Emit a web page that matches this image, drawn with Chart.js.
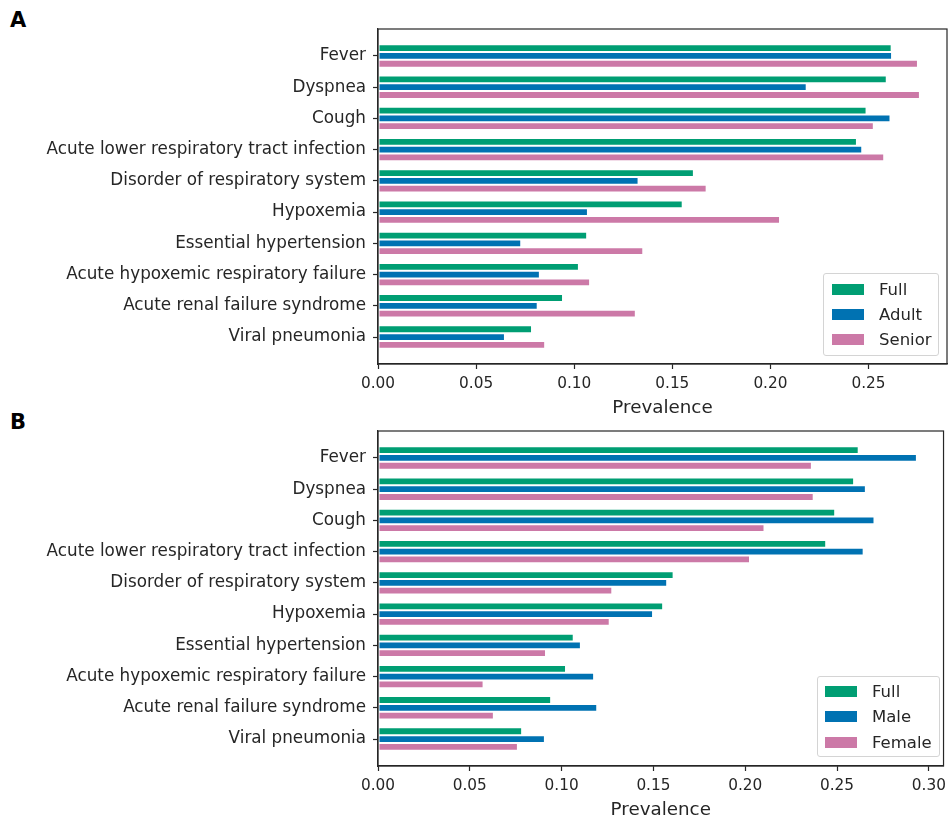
<!DOCTYPE html>
<html>
<head>
<meta charset="utf-8">
<script src="https://cdn.jsdelivr.net/npm/chart.js@4.4.1/dist/chart.umd.min.js"></script>
<style>
  html, body { margin: 0; padding: 0; background: #fff; }
  body { width: 952px; height: 821px; position: relative; overflow: hidden; font-family: "DejaVu Sans", sans-serif; }
  .panel-letter { position: absolute; left: 10px; font-weight: bold; font-size: 21px; line-height: 21px; color: #000; }
  canvas { position: absolute; left: 0; }
  .legend { position: absolute; box-sizing: border-box; border: 1px solid #d4d4d4; border-radius: 3px; background: rgba(255,255,255,0.85); }
  .legend-row { position: absolute; left: 0; height: 20px; display: flex; align-items: center; white-space: nowrap; }
  .legend-swatch { width: 32px; height: 11px; }
  .legend-text { font-size: 16.5px; color: #262626; }
</style>
</head>
<body>
<div class="panel-letter" style="top:10px">A</div>
<div class="panel-letter" style="top:412px">B</div>
<canvas id="panelA" width="952" height="420" style="top:0"></canvas>
<canvas id="panelB" width="952" height="419" style="top:402px"></canvas>
<script>
// Top-10 symptoms/conditions, most prevalent first
const symptoms = [
  "Fever",
  "Dyspnea",
  "Cough",
  "Acute lower respiratory tract infection",
  "Disorder of respiratory system",
  "Hypoxemia",
  "Essential hypertension",
  "Acute hypoxemic respiratory failure",
  "Acute renal failure syndrome",
  "Viral pneumonia"
];

// Prevalence per cohort
const fullValues   = [0.2618, 0.2593, 0.2490, 0.2441, 0.1610, 0.1553, 0.1066, 0.1024, 0.0943, 0.0785];
const adultValues  = [0.2620, 0.2185, 0.2612, 0.2468, 0.1328, 0.1070, 0.0730, 0.0825, 0.0814, 0.0647];
const seniorValues = [0.2752, 0.2762, 0.2527, 0.2580, 0.1675, 0.2049, 0.1352, 0.1081, 0.1314, 0.0852];
const maleValues   = [0.2935, 0.2657, 0.2704, 0.2645, 0.1575, 0.1498, 0.1105, 0.1177, 0.1194, 0.0909];
const femaleValues = [0.2363, 0.2373, 0.2105, 0.2026, 0.1276, 0.1262, 0.0915, 0.0575, 0.0631, 0.0762];

// x-axis tick values and upper limits of each panel
const prevalenceTicks = [0, 0.05, 0.10, 0.15, 0.20, 0.25, 0.30];
const xMaxA = 0.290;
const xMaxB = 0.308;

const palette = { green: "#009E73", blue: "#0072B2", pink: "#CC79A7" };
const ink = "#262626";

// outline the whole plotting area (box on all four sides)
const frameBox = {
  id: "frameBox",
  afterDraw(chart) {
    const { ctx, chartArea: a } = chart;
    ctx.save();
    ctx.strokeStyle = ink;
    ctx.lineWidth = 1.2;
    ctx.strokeRect(a.left, a.top, a.right - a.left, a.bottom - a.top);
    ctx.restore();
  }
};

function toPoints(values) {
  return values.map((v, i) => ({ x: v, y: i }));
}

function makePanel(canvasId, series, xMax, axisHeight, titlePad) {
  const datasets = series.map(s => ({
    label: s.label,
    data: toPoints(s.values),
    backgroundColor: s.color,
    borderColor: "rgba(255,255,255,0.95)",
    borderWidth: 1,
    borderSkipped: false,
    categoryPercentage: 0.75,
    barPercentage: 1.0
  }));

  return new Chart(document.getElementById(canvasId), {
    type: "bar",
    data: { datasets },
    options: {
      indexAxis: "y",
      responsive: false,
      animation: false,
      devicePixelRatio: 1,
      layout: { padding: { left: 0, top: 29, right: 5, bottom: 0 } },
      plugins: { legend: { display: false }, tooltip: { enabled: false } },
      scales: {
        y: {
          type: "linear",
          reverse: true,
          offset: false,
          min: -0.8625,
          max: 9.8625,
          afterBuildTicks(scale) {
            scale.ticks = symptoms.map((_, i) => ({ value: i }));
          },
          afterFit(scale) { scale.width = 378; },
          grid: { offset: false, drawOnChartArea: false, drawTicks: true, tickLength: 5, tickWidth: 1.2, tickColor: ink },
          border: { display: true, color: ink, width: 1.2 },
          ticks: {
            autoSkip: false,
            padding: 7,
            color: ink,
            font: { family: "DejaVu Sans", size: 16.8 },
            callback: (v) => symptoms[v]
          }
        },
        x: {
          type: "linear",
          offset: false,
          min: 0,
          max: xMax,
          afterBuildTicks(scale) {
            scale.ticks = prevalenceTicks.filter(t => t <= xMax).map(t => ({ value: t }));
          },
          afterFit(scale) { scale.height = axisHeight; },
          grid: { offset: false, drawOnChartArea: false, drawTicks: true, tickLength: 5, tickWidth: 1.2, tickColor: ink },
          border: { display: true, color: ink, width: 1.2 },
          ticks: {
            autoSkip: false,
            maxRotation: 0,
            padding: 6,
            color: ink,
            font: { family: "DejaVu Sans", size: 15.3 },
            callback: (v) => Number(v).toFixed(2)
          },
          title: {
            display: true,
            text: "Prevalence",
            color: ink,
            font: { family: "DejaVu Sans", size: 18.3 },
            padding: { top: 0, bottom: titlePad }
          }
        }
      }
    },
    plugins: [frameBox]
  });
}

function buildLegend(chart, box) {
  const el = document.createElement("div");
  el.className = "legend";
  Object.assign(el.style, { left: box.x + "px", top: box.y + "px", width: box.w + "px", height: box.h + "px" });
  chart.data.datasets.forEach((ds, i) => {
    const row = document.createElement("div");
    row.className = "legend-row";
    row.style.top = (box.firstRow + i * box.pitch - 10) + "px";
    row.style.left = box.swatchLeft + "px";
    const sw = document.createElement("div");
    sw.className = "legend-swatch";
    sw.style.background = ds.backgroundColor;
    const tx = document.createElement("span");
    tx.className = "legend-text";
    tx.style.marginLeft = box.gap + "px";
    tx.textContent = ds.label;
    row.appendChild(sw);
    row.appendChild(tx);
    el.appendChild(row);
  });
  document.body.appendChild(el);
}

const chartA = makePanel("panelA", [
  { label: "Full", values: fullValues, color: palette.green },
  { label: "Adult", values: adultValues, color: palette.blue },
  { label: "Senior", values: seniorValues, color: palette.pink }
], xMaxA, 56, 1);

const chartB = makePanel("panelB", [
  { label: "Full", values: fullValues, color: palette.green },
  { label: "Male", values: maleValues, color: palette.blue },
  { label: "Female", values: femaleValues, color: palette.pink }
], xMaxB, 55, 0);

buildLegend(chartA, { x: 823, y: 273, w: 116, h: 83, firstRow: 15, pitch: 25, swatchLeft: 8, gap: 15 });
buildLegend(chartB, { x: 817, y: 676, w: 123, h: 81, firstRow: 14, pitch: 25.5, swatchLeft: 7, gap: 15 });
</script>
</body>
</html>
